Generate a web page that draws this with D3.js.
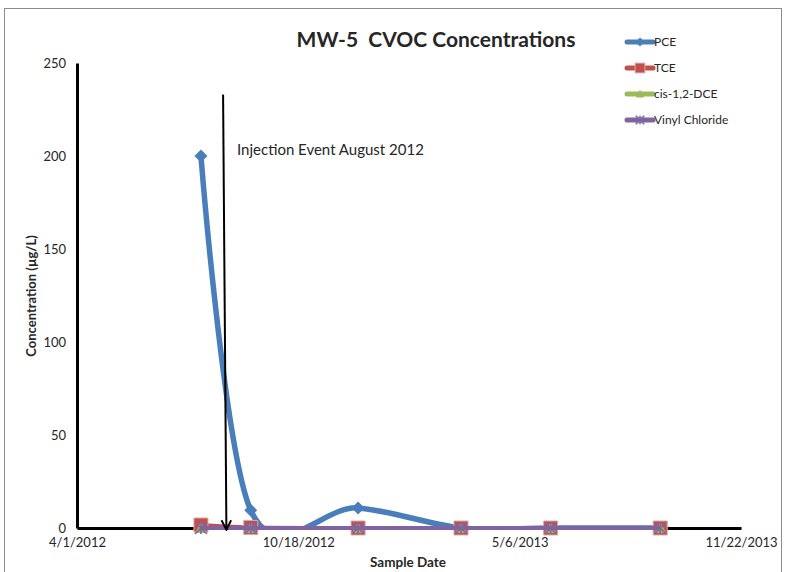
<!DOCTYPE html>
<html>
<head>
<meta charset="utf-8">
<script src="https://cdn.jsdelivr.net/npm/d3@7"></script>
<style>
  body { margin: 0; background: #fff; }
  text { font-family: Lato, "Open Sans", sans-serif; fill: #262626; white-space: pre; }
</style>
</head>
<body>
<div id="chart"></div>
<script>
// sample data
var sampleDates = ['2012-07-22', '2012-09-05', '2012-12-11', '2013-03-14', '2013-06-03', '2013-09-10']
var pce = [200, 9.5, 10.8, 0, 0, 0]
var tce = [1.6, 0.3, 0, 0, 0, 0]
var dce = [0, 0, 0, 0, 0, 0]
var vinylChloride = [0, 0, 0, 0, 0, 0]
var seriesNames = ['PCE', 'TCE', 'cis-1,2-DCE', 'Vinyl Chloride']
var seriesColors = ['#4A7EBB', '#C0504D', '#9BBB59', '#8064A2']
var yTicks = [0, 50, 100, 150, 200, 250]
var xTicks = ['2012-04-01', '2012-10-18', '2013-05-06', '2013-11-22']
var injectionArrow = [{ date: '2012-08-11', value: 233 }, { date: '2012-08-14', value: -1 }]
var injectionLabel = 'Injection Event August 2012'

var parseDate = d3.timeParse('%Y-%m-%d')
var fmtDate = d3.timeFormat('%-m/%-d/%Y')

var width = 786
var height = 572
var margin = { top: 63, right: 45, bottom: 44, left: 77 }

var svg = d3.select('#chart').append('svg')
  .attr('width', width)
  .attr('height', height)

// chart border
svg.append('rect')
  .attr('x', 4.5).attr('y', 8.5)
  .attr('width', 777).attr('height', 600)
  .attr('fill', 'none')
  .attr('stroke', '#8c8c8c')
  .attr('stroke-width', 1)

var xScale = d3.scaleTime()
  .domain([parseDate(xTicks[0]), parseDate(xTicks[xTicks.length - 1])])
  .range([margin.left, width - margin.right])

var yScale = d3.scaleLinear()
  .domain([0, 250])
  .range([height - margin.bottom, margin.top])

// y axis
var yAxis = svg.append('g')
  .attr('transform', 'translate(' + margin.left + ',0)')
  .call(d3.axisLeft(yScale).tickValues(yTicks).tickSize(0).tickPadding(11))
yAxis.select('.domain').attr('stroke', '#000').attr('stroke-width', 3)
yAxis.selectAll('text').style('font-size', '13px').attr('fill', '#404040')
  .style('font-family', 'Lato, sans-serif')

// x axis
var xAxis = svg.append('g')
  .attr('transform', 'translate(0,' + yScale(0) + ')')
  .call(d3.axisBottom(xScale).tickValues(xTicks.map(parseDate)).tickFormat(fmtDate).tickSize(0).tickPadding(10))
xAxis.select('.domain').attr('stroke', '#000').attr('stroke-width', 3)
xAxis.selectAll('text').style('font-size', '13px').attr('fill', '#404040')
  .style('font-family', 'Lato, sans-serif')

// titles
svg.append('text')
  .attr('x', 436).attr('y', 47)
  .attr('text-anchor', 'middle')
  .style('font-size', '21px').style('font-weight', 'bold')
  .attr('fill', '#000')
  .text('MW-5  CVOC Concentrations')

svg.append('text')
  .attr('x', 408).attr('y', 567)
  .attr('text-anchor', 'middle')
  .style('font-size', '13.5px').style('font-weight', 'bold')
  .text('Sample Date')

svg.append('text')
  .attr('transform', 'translate(36,' + 296 + ') rotate(-90)')
  .attr('text-anchor', 'middle')
  .style('font-size', '13px').style('font-weight', 'bold')
  .text('Concentration (\u00b5g/L)')

// clip so the smoothed curve can't dip under the axis
svg.append('clipPath').attr('id', 'plot-clip')
  .append('rect')
  .attr('x', margin.left).attr('y', margin.top)
  .attr('width', width - margin.left - margin.right)
  .attr('height', yScale(0) - margin.top + 2)

var allSeries = [pce, tce, dce, vinylChloride].map(function(vals, i) {
  return {
    name: seriesNames[i],
    color: seriesColors[i],
    points: vals.map(function(v, j) { return { date: parseDate(sampleDates[j]), value: v } })
  }
})

var line = d3.line()
  .x(d => xScale(d.date))
  .y(d => yScale(d.value))
  .curve(d3.curveCardinal.tension(0))

var strokeWidths = [5.5, 4, 4, 4]

// excel-like marker shapes, r = half size
function markerPath(i, r) {
  var p = d3.path()
  if (i === 0) {
    p.moveTo(0, -r); p.lineTo(r, 0); p.lineTo(0, r); p.lineTo(-r, 0); p.closePath()
  } else if (i === 1) {
    p.rect(-r, -r, 2 * r, 2 * r)
  } else if (i === 2) {
    p.moveTo(0, -r); p.lineTo(r, r * 0.85); p.lineTo(-r, r * 0.85); p.closePath()
  } else {
    p.moveTo(-r, -r); p.lineTo(r, r)
    p.moveTo(r, -r); p.lineTo(-r, r)
    p.moveTo(0, -r); p.lineTo(0, r)
  }
  return p.toString()
}
var markerRadius = [6.5, 7, 6, 6]

function drawMarker(g, i, x, y, k) {
  var s = allSeries[i]
  var p = g.append('path')
    .attr('transform', 'translate(' + x + ',' + y + ')')
    .attr('d', markerPath(i, markerRadius[i] * k))
  if (i === 3) {
    p.attr('fill', 'none').attr('stroke', s.color).attr('stroke-width', 1.6)
  } else if (i === 1) {
    p.attr('fill', s.color).attr('stroke', '#e5a3a1').attr('stroke-width', 1)
  } else {
    p.attr('fill', s.color)
  }
}

allSeries.forEach(function(s, i) {
  var g = svg.append('g')
  g.append('path')
    .attr('clip-path', 'url(#plot-clip)')
    .attr('d', line(s.points))
    .attr('fill', 'none')
    .attr('stroke', s.color)
    .attr('stroke-width', strokeWidths[i])
    .attr('stroke-linejoin', 'round')
  s.points.forEach(function(d) {
    drawMarker(g, i, xScale(d.date), yScale(d.value), 1)
  })
})

// injection event arrow
svg.append('defs').append('marker')
  .attr('id', 'arrowhead')
  .attr('viewBox', '0 0 10 10')
  .attr('refX', 9).attr('refY', 5)
  .attr('markerWidth', 6).attr('markerHeight', 6)
  .attr('orient', 'auto')
  .append('path')
  .attr('d', 'M1,1 L9,5 L1,9')
  .attr('fill', 'none')
  .attr('stroke', '#000')
  .attr('stroke-width', 1.6)

svg.append('line')
  .attr('x1', xScale(parseDate(injectionArrow[0].date)))
  .attr('y1', yScale(injectionArrow[0].value))
  .attr('x2', xScale(parseDate(injectionArrow[1].date)))
  .attr('y2', yScale(injectionArrow[1].value))
  .attr('stroke', '#000')
  .attr('stroke-width', 2)
  .attr('marker-end', 'url(#arrowhead)')

svg.append('text')
  .attr('x', 237).attr('y', 155)
  .style('font-size', '15px')
  .attr('fill', '#000')
  .text(injectionLabel)

// legend
var legend = svg.append('g')
allSeries.forEach(function(s, i) {
  var ly = 42 + i * 26
  legend.append('line')
    .attr('x1', 627).attr('x2', 653)
    .attr('y1', ly).attr('y2', ly)
    .attr('stroke', s.color)
    .attr('stroke-width', 5)
    .attr('stroke-linecap', 'round')
  drawMarker(legend, i, 640, ly, 0.7)
  legend.append('text')
    .attr('x', 654).attr('y', ly + 4)
    .style('font-size', '12px')
    .text(s.name)
})
</script>
</body>
</html>
